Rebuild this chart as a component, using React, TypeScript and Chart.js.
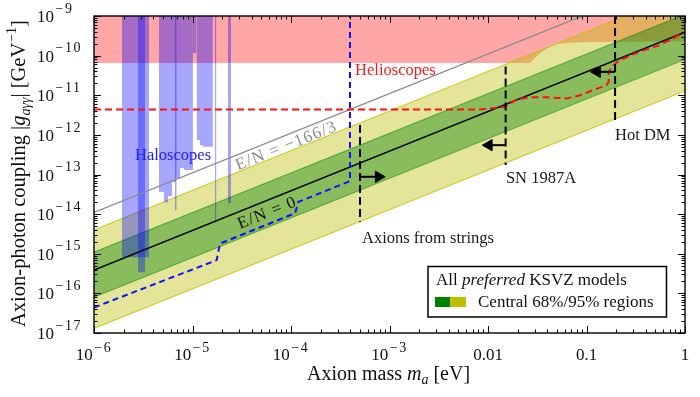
import React, { useEffect, useRef } from 'react';
import { Chart, registerables } from 'chart.js';

Chart.register(...registerables);

const FONT = '"Liberation Serif", "Times New Roman", serif';

// Axis ranges and tick labels
const X_MIN = 1e-6;
const X_MAX = 1;
const Y_MIN = 1e-17;
const Y_MAX = 1e-9;
const xTickValues = [1e-6, 1e-5, 1e-4, 1e-3, 1e-2, 1e-1, 1];
const xTickBase = ['10', '10', '10', '10', '0.01', '0.1', '1'];
const xTickExp = ['−6', '−5', '−4', '−3', '', '', ''];
const yTickValues = [1e-17, 1e-16, 1e-15, 1e-14, 1e-13, 1e-12, 1e-11, 1e-10, 1e-9];
const yTickExp = ['−17', '−16', '−15', '−14', '−13', '−12', '−11', '−10', '−9'];

// KSVZ bands (straight lines in log-log)
const bandMass = [1e-6, 1];
const centralEN0 = [3.9e-16, 3.9e-10];
const lineEN166 = [1.1e-14, 1.1e-8];
const band95Upper = [4.0e-15, 4.0e-9];
const band68Upper = [1.1e-15, 1.1e-9];
const band68Lower = [8.0e-17, 8.0e-11];
const band95Lower = [1.3e-17, 1.3e-11];

// Helioscope exclusion (filled to top)
const helioMass = [1e-6, 0.0267, 0.0337, 0.0406, 0.049, 0.068, 0.137, 1];
const helioLimit = [6.5e-11, 6.5e-11, 1.16e-10, 1.55e-10, 1.96e-10, 2.1e-10, 2.2e-10, 2.3e-10];

// Helioscope projection (red dashed)
const helioProjMass = [1e-6, 8.3e-3, 0.0149, 0.0196, 0.0267, 0.0394, 0.063, 0.086, 0.117, 0.160, 0.168, 0.168, 0.187, 0.219, 0.349, 0.557, 1];
const helioProjG = [4.4e-12, 4.4e-12, 5.1e-12, 7.9e-12, 8.9e-12, 8.9e-12, 8.3e-12, 1.0e-11, 1.35e-11, 1.8e-11, 2.2e-11, 3.9e-11, 5.7e-11, 7.7e-11, 1.26e-10, 1.85e-10, 3.9e-10];

// Haloscope projection (blue dashed)
const haloProjMass = [1e-6, 1.76e-5, 1.9e-5, 1.1e-4, 1.19e-4, 3.97e-4, 3.97e-4];
const haloProjG = [4.4e-17, 6.9e-16, 1.8e-15, 1.05e-14, 2.04e-14, 6.8e-14, 1e-9];

// Haloscope exclusions (filled to top, stepped)
const haloAMass = [1.92e-6, 3.62e-6];
const haloAG = [8.2e-16, 8.2e-16];
const haloBMass = [2.80e-6, 3.30e-6];
const haloBG = [3.4e-16, 3.4e-16];
const haloCMass = [4.57e-6, 5.14e-6, 5.64e-6, 6.19e-6, 6.80e-6, 7.47e-6, 8.2e-6, 9.0e-6, 1.01e-5];
const haloCG = [2.5e-14, 3.6e-14, 2.0e-14, 2.85e-14, 6.5e-14, 8.1e-14, 1.45e-13, 1.29e-13, 1.29e-13];
const haloCLineMass = [6.64e-6, 6.91e-6];
const haloCLineG = [1.26e-14, 1.26e-14];
const haloSpikeMass = [1.01e-5, 1.10e-5];
const haloSpikeG = [1.16e-10, 1.16e-10];
const haloDMass = [1.10e-5, 1.19e-5, 1.28e-5, 1.40e-5, 1.61e-5];
const haloDG = [1.6e-13, 7.4e-13, 5.5e-13, 5.0e-13, 5.0e-13];
const haloELineMass = [1.69e-5, 1.75e-5];
const haloELineG = [6.3e-15, 6.3e-15];
const haloFMass = [2.29e-5, 2.46e-5];
const haloFG = [1.9e-14, 1.9e-14];

// Bounds (vertical dashed) and arrows
const stringsMass = [5.02e-4, 5.02e-4];
const stringsG = [1.77e-12, 6.4e-15];
const stringsArrowMass = [5.02e-4, 7.76e-4];
const stringsArrowG = [8.75e-14, 8.75e-14];
const snMass = [0.0151, 0.0151];
const snG = [5.3e-11, 1.73e-13];
const snArrowMass = [0.0151, 0.0102];
const snArrowG = [5.5e-13, 5.5e-13];
const hotMass = [0.195, 0.195];
const hotG = [1e-9, 2.37e-12];
const hotArrowMass = [0.195, 0.128];
const hotArrowG = [3.9e-11, 3.9e-11];

// Text annotations (anchor in data coordinates)
const annotTexts = ['Helioscopes', 'Haloscopes', 'Axions from strings', 'SN 1987A', 'Hot DM'];
const annotMass = [4.47e-4, 2.61e-6, 5.26e-4, 0.0152, 0.195];
const annotG = [3.2e-11, 2.31e-13, 1.85e-15, 6.07e-14, 7.4e-13];
const annotColors = ['#f02020', '#1e1ef0', '#1a1a1a', '#1a1a1a', '#1a1a1a'];
const lineLabelTexts = ['E/N = −166/3', 'E/N = 0'];
const lineLabelMass = [8.9e-5, 5.7e-5];
const lineLabelG = [5.5e-13, 1.12e-14];
const lineLabelColors = ['#8c8c8c', '#111111'];

type Run = { t: string; it?: boolean; sub?: boolean; sup?: boolean; ls?: number };

const pts = (xs: number[], ys: number[]) => xs.map((x, i) => ({ x, y: ys[i] }));

function runSize(r: Run, size: number, supScale: number) {
  return r.sub ? Math.round(size * 0.7) : r.sup ? Math.round(size * supScale) : size;
}
function setRun(ctx: any, r: Run, size: number, supScale: number) {
  ctx.font = `${r.it ? 'italic ' : ''}${runSize(r, size, supScale)}px ${FONT}`;
  ctx.letterSpacing = `${r.ls || 0}px`;
}
function drawRuns(ctx: any, runs: Run[], x: number, y: number, size: number, align: string, color: string,
  supScale = 0.7, supRaise = 0.42, supGap = 0) {
  let w = 0;
  const widths: number[] = [];
  for (const r of runs) {
    setRun(ctx, r, size, supScale);
    const ww = ctx.measureText(r.t).width + (r.sup ? supGap : 0);
    widths.push(ww);
    w += ww;
  }
  let cx = align === 'left' ? x : align === 'center' ? x - w / 2 : x - w;
  ctx.textAlign = 'left';
  ctx.textBaseline = 'alphabetic';
  ctx.fillStyle = color;
  runs.forEach((r, i) => {
    setRun(ctx, r, size, supScale);
    const dy = r.sup ? -size * supRaise : r.sub ? size * 0.22 : 0;
    ctx.fillText(r.t, cx + (r.sup ? supGap : 0), y + dy);
    cx += widths[i];
  });
  ctx.letterSpacing = '0px';
}

const decorPlugin = {
  id: 'decor',
  afterDraw(chart: any) {
    const { ctx, chartArea: a, scales } = chart;
    const xs = scales.x;
    const ys = scales.y;
    ctx.save();
    // ticks
    ctx.strokeStyle = '#000';
    ctx.lineWidth = 1;
    const tick = (x1: number, y1: number, x2: number, y2: number) => {
      ctx.beginPath();
      ctx.moveTo(x1, y1);
      ctx.lineTo(x2, y2);
      ctx.stroke();
    };
    for (let d = -6; d <= 0; d++) {
      for (let k = 1; k <= 9; k++) {
        const v = k * Math.pow(10, d);
        if (v > X_MAX * 1.0001) continue;
        const px = Math.round(xs.getPixelForValue(v)) + 0.5;
        const len = k === 1 ? 7 : 3.5;
        tick(px, a.bottom, px, a.bottom - len);
        tick(px, a.top, px, a.top + len);
      }
    }
    for (let d = -17; d <= -9; d++) {
      for (let k = 1; k <= 9; k++) {
        const v = k * Math.pow(10, d);
        if (v > Y_MAX * 1.0001) continue;
        const py = Math.round(ys.getPixelForValue(v)) + 0.5;
        const len = k === 1 ? 7 : 3.5;
        tick(a.left, py, a.left + len, py);
        tick(a.right, py, a.right - len, py);
      }
    }
    // frame
    ctx.lineWidth = 1.4;
    ctx.strokeRect(a.left, a.top, a.right - a.left, a.bottom - a.top);

    // tick labels
    const TS = 17;
    xTickValues.forEach((v, i) => {
      const px = xs.getPixelForValue(v);
      const runs: Run[] = [{ t: xTickBase[i] }];
      if (xTickExp[i]) runs.push({ t: xTickExp[i], sup: true, ls: 1.5 });
      drawRuns(ctx, runs, px, a.bottom + 27, TS, 'center', '#111', 0.8, 0.5, 1.5);
    });
    yTickValues.forEach((v, i) => {
      const py = ys.getPixelForValue(v);
      drawRuns(ctx, [{ t: '10' }, { t: yTickExp[i], sup: true, ls: 1.5 }], 37, py + 6, TS, 'left', '#111', 0.8, 0.55, 1.5);
    });

    // axis titles
    const AS = 20;
    drawRuns(ctx, [{ t: 'Axion mass ' }, { t: 'm', it: true }, { t: 'a', it: true, sub: true }, { t: ' [eV]' }],
      (a.left + a.right) / 2 - 1, a.bottom + 47, AS, 'center', '#111');
    ctx.save();
    ctx.translate(25, (a.top + a.bottom) / 2 - 1);
    ctx.rotate(-Math.PI / 2);
    drawRuns(ctx, [
      { t: 'Axion-photon coupling |' }, { t: 'g', it: true }, { t: 'aγγ', it: true, sub: true },
      { t: '| [GeV' }, { t: '−1', sup: true }, { t: ']' },
    ], 0, 0, 20.5, 'center', '#111', 0.7, 0.42, 1);
    ctx.restore();

    // annotations
    const FS = 16.5;
    annotTexts.forEach((t, i) => {
      drawRuns(ctx, [{ t }], xs.getPixelForValue(annotMass[i]), ys.getPixelForValue(annotG[i]), FS, 'left', annotColors[i]);
    });
    const ang = Math.atan2(
      ys.getPixelForValue(centralEN0[1]) - ys.getPixelForValue(centralEN0[0]),
      xs.getPixelForValue(bandMass[1]) - xs.getPixelForValue(bandMass[0])
    );
    lineLabelTexts.forEach((t, i) => {
      ctx.save();
      ctx.translate(xs.getPixelForValue(lineLabelMass[i]), ys.getPixelForValue(lineLabelG[i]));
      ctx.rotate(ang);
      drawRuns(ctx, [{ t, ls: 1.2 }], 0, 5.5, 17, 'center', lineLabelColors[i]);
      ctx.restore();
    });

    // legend box
    const bx1 = a.right - 18.5;
    const by1 = a.bottom - 16;
    const bx0 = bx1 - 238.5;
    const by0 = by1 - 50.5;
    ctx.fillStyle = '#fff';
    ctx.fillRect(bx0, by0, bx1 - bx0, by1 - by0);
    ctx.lineWidth = 1.5;
    ctx.strokeStyle = '#000';
    ctx.strokeRect(bx0, by0, bx1 - bx0, by1 - by0);
    drawRuns(ctx, [{ t: 'All ' }, { t: 'preferred', it: true }, { t: ' KSVZ models' }], bx0 + 8, by0 + 18.5, 17, 'left', '#111');
    ctx.fillStyle = '#008000';
    ctx.fillRect(bx0 + 7, by0 + 30.5, 15, 10);
    ctx.fillStyle = '#bfbf00';
    ctx.fillRect(bx0 + 22, by0 + 30.5, 16, 10);
    drawRuns(ctx, [{ t: 'Central 68%/95% regions' }], bx0 + 50, by0 + 40.5, 17, 'left', '#111');
    ctx.restore();
  },
};

export default function App() {
  const canvasRef = useRef<HTMLCanvasElement | null>(null);

  useEffect(() => {
    const canvas = canvasRef.current;
    if (!canvas) return;
    const ds: any[] = [];
    const add = (d: any) => {
      ds.push({ pointRadius: 0, borderWidth: 0, fill: false, clip: 0, tension: 0, ...d });
      return ds.length - 1;
    };
    const RED = 'rgba(255,0,0,0.35)';
    const BLUE = 'rgba(0,0,255,0.35)';
    const YEL = 'rgba(191,191,0,0.4)';
    const GRN = 'rgba(0,128,0,0.4)';

    // helioscope region
    add({ data: pts(helioMass, helioLimit), fill: 'end', backgroundColor: RED, order: 40 });
    // 95% band
    const y95lo = add({ data: pts(bandMass, band95Lower), borderColor: 'rgba(191,191,0,0.7)', borderWidth: 1.2, order: 35 });
    add({ data: pts(bandMass, band95Upper), fill: { target: y95lo }, backgroundColor: YEL, borderColor: 'rgba(191,191,0,0.7)', borderWidth: 1.2, order: 35 });
    // 68% band
    const g68lo = add({ data: pts(bandMass, band68Lower), borderColor: 'rgba(0,128,0,0.45)', borderWidth: 1.2, order: 34 });
    add({ data: pts(bandMass, band68Upper), fill: { target: g68lo }, backgroundColor: GRN, borderColor: 'rgba(0,128,0,0.45)', borderWidth: 1.2, order: 34 });
    // haloscopes
    const halos: [number[], number[]][] = [
      [haloAMass, haloAG], [haloBMass, haloBG], [haloCMass, haloCG], [haloCLineMass, haloCLineG],
      [haloSpikeMass, haloSpikeG], [haloDMass, haloDG], [haloELineMass, haloELineG], [haloFMass, haloFG],
    ];
    halos.forEach(([m, g]) => add({ data: pts(m, g), fill: 'end', stepped: 'after', backgroundColor: BLUE, order: 30 }));
    // lines
    add({ data: pts(bandMass, lineEN166), borderColor: '#8a8a8a', borderWidth: 1.3, order: 10 });
    add({ data: pts(bandMass, centralEN0), borderColor: '#000', borderWidth: 1.5, order: 9 });
    add({ data: pts(helioProjMass, helioProjG), borderColor: '#ff1010', borderWidth: 2, borderDash: [7, 4], order: 8 });
    add({ data: pts(haloProjMass, haloProjG), borderColor: '#1010ff', borderWidth: 2, borderDash: [6, 4], order: 7 });
    const bounds: [number[], number[], number[], number[], number][] = [
      [stringsMass, stringsG, stringsArrowMass, stringsArrowG, 90],
      [snMass, snG, snArrowMass, snArrowG, -90],
      [hotMass, hotG, hotArrowMass, hotArrowG, -90],
    ];
    bounds.forEach(([m, g, am, ag, rot]) => {
      add({ data: pts(m, g), borderColor: '#000', borderWidth: 2, borderDash: [8, 4], order: 5 });
      add({
        data: pts(am, ag), borderColor: '#000', borderWidth: 2, order: 5,
        pointRadius: [0, 6.5], pointStyle: 'triangle', pointRotation: rot,
        pointBackgroundColor: '#000', pointBorderColor: '#000', pointBorderWidth: 1,
      });
    });

    const chart = new Chart(canvas, {
      type: 'line',
      data: { datasets: ds },
      options: {
        animation: false,
        responsive: false,
        events: [],
        layout: { padding: { left: 94, right: 15, top: 16, bottom: 64 } },
        plugins: { legend: { display: false }, tooltip: { enabled: false } },
        scales: {
          x: { type: 'logarithmic', min: X_MIN, max: X_MAX, display: false },
          y: { type: 'logarithmic', min: Y_MIN, max: Y_MAX, display: false },
        },
      },
      plugins: [decorPlugin],
    } as any);
    return () => chart.destroy();
  }, []);

  return (
    <div style={{ position: 'absolute', left: 0, top: 0, width: 700, height: 397, background: '#fff' }}>
      <canvas ref={canvasRef} width={700} height={397} style={{ display: 'block', width: 700, height: 397 }} />
    </div>
  );
}
